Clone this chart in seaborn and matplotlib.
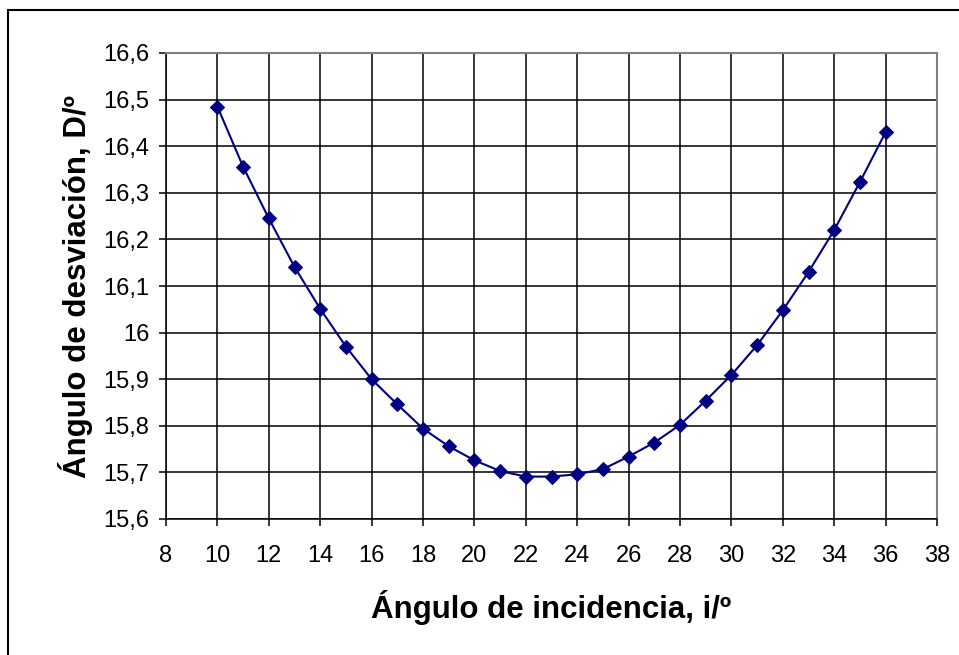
import matplotlib
matplotlib.use("Agg")
import matplotlib.pyplot as plt
import seaborn as sns
import pandas as pd
from matplotlib.ticker import FuncFormatter, MultipleLocator
from matplotlib.patches import Rectangle

incidence = [10, 11, 12, 13, 14, 15, 16, 17, 18, 19, 20, 21, 22, 23,
             24, 25, 26, 27, 28, 29, 30, 31, 32, 33, 34, 35, 36]
deviation = [16.485, 16.356, 16.245, 16.141, 16.051, 15.970, 15.900, 15.846,
             15.794, 15.756, 15.726, 15.703, 15.691, 15.691, 15.696, 15.707,
             15.734, 15.764, 15.802, 15.854, 15.909, 15.973, 16.048, 16.130,
             16.220, 16.323, 16.430]
x_label = "Ángulo de incidencia, i/º"
y_label = "Ángulo de desviación, D/º"

df = pd.DataFrame({"i": incidence, "D": deviation})

sns.set_theme(style="white")
plt.rcParams["font.family"] = ["Liberation Sans", "DejaVu Sans"]
plt.rcParams["text.color"] = "black"
plt.rcParams["axes.labelcolor"] = "black"

fig = plt.figure(figsize=(9.59, 6.55), dpi=100)
ax = fig.add_axes([166/959, 1-519/655, (937-166)/959, (519-53)/655])

sns.lineplot(data=df, x="i", y="D", ax=ax, color="#000080", linewidth=1.5,
             marker="D", markersize=7, markeredgecolor="#000080",
             markerfacecolor="#000080")

ax.set_xlim(8, 38)
ax.set_ylim(15.6, 16.6)
ax.xaxis.set_major_locator(MultipleLocator(2))
ax.yaxis.set_major_locator(MultipleLocator(0.1))
fmt = FuncFormatter(lambda v, p: ("%g" % round(v, 2)).replace(".", ","))
ax.yaxis.set_major_formatter(fmt)
ax.xaxis.set_major_formatter(FuncFormatter(lambda v, p: "%d" % round(v)))

ax.grid(True, color="black", linewidth=1.1)
ax.set_axisbelow(True)
for s in ["left", "bottom"]:
    ax.spines[s].set_color("black")
    ax.spines[s].set_linewidth(1.1)
for s in ["top", "right"]:
    ax.spines[s].set_color("#808080")
    ax.spines[s].set_linewidth(1.5)

ax.tick_params(axis="both", which="major", direction="out", length=5,
               width=1.1, color="black", labelsize=17, labelcolor="black",
               left=True, bottom=True)
ax.tick_params(axis="x", pad=14)
ax.tick_params(axis="y", pad=7)

ax.set_xlabel(x_label, fontsize=22.5, fontweight="bold", labelpad=16)
ax.set_ylabel(y_label, fontsize=22.5, fontweight="bold", labelpad=7)

fig.patches.append(Rectangle((8/959, -0.1), 1.2, 1 - 10/655 + 0.1,
                             transform=fig.transFigure, fill=False,
                             edgecolor="black", linewidth=1.5))

fig.savefig("out.png", dpi=100)
